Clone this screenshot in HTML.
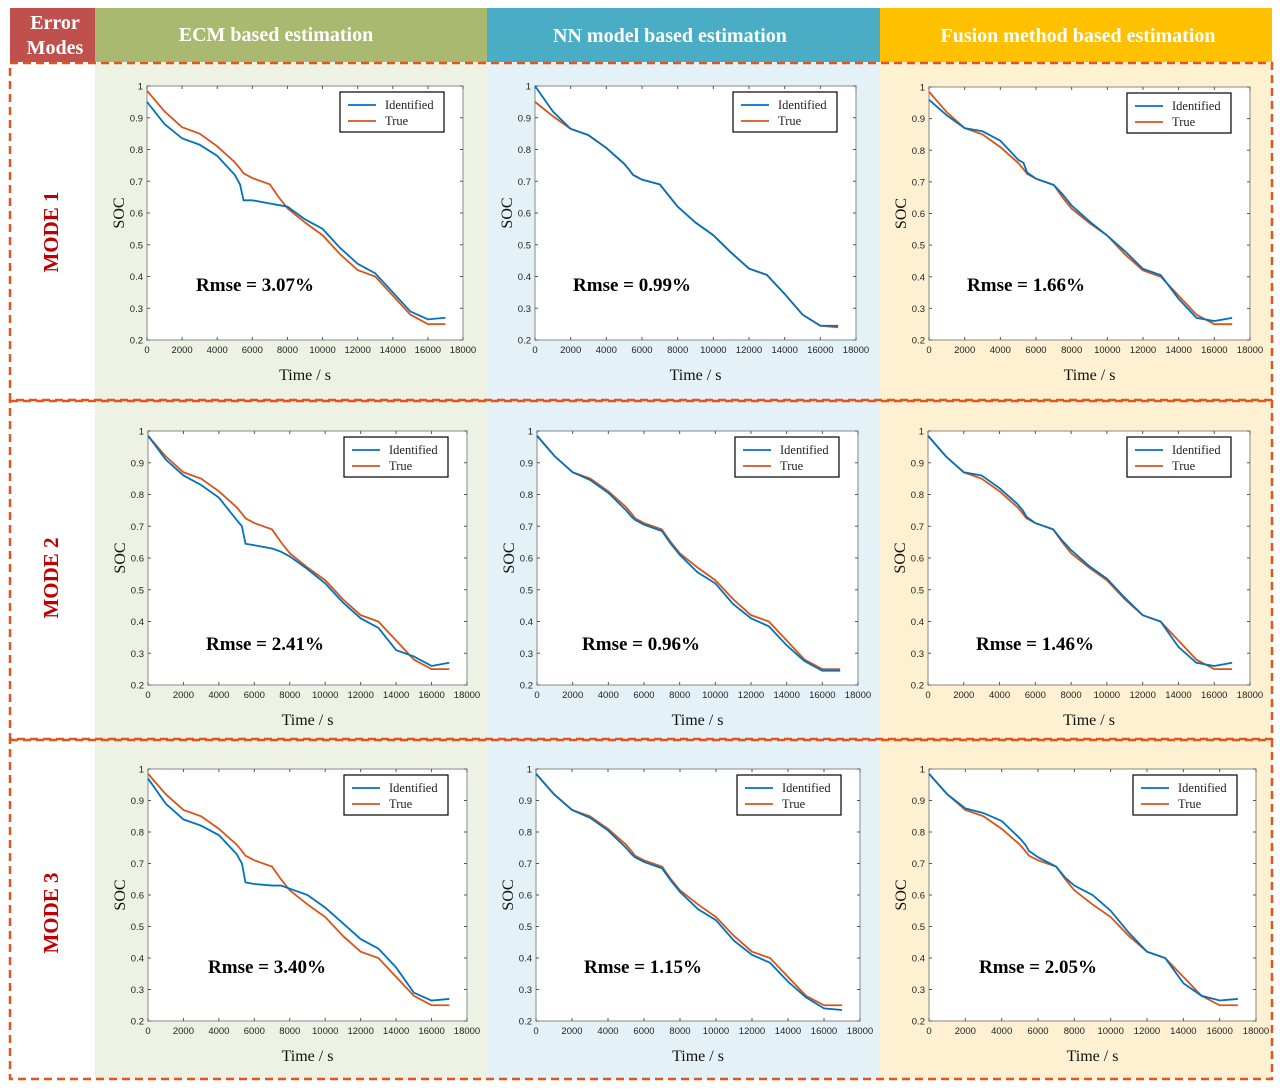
<!DOCTYPE html>
<html><head><meta charset="utf-8"><style>
html,body{margin:0;padding:0;background:#fff;width:1280px;height:1090px;overflow:hidden}
svg{display:block;font-family:"Liberation Serif",serif}
</style></head><body>
<svg id="fig" width="1280" height="1090" viewBox="0 0 1280 1090" xmlns="http://www.w3.org/2000/svg">
<rect x="95" y="62" width="392" height="1018" fill="#eef2e4"/>
<rect x="487" y="62" width="393" height="1018" fill="#e4f2f7"/>
<rect x="880" y="62" width="392" height="1018" fill="#fdf1d2"/>
<rect x="10" y="8" width="85" height="54" fill="#c0504d"/>
<rect x="95" y="8" width="392" height="54" fill="#a9ba70"/>
<rect x="487" y="8" width="393" height="54" fill="#4bacc6"/>
<rect x="880" y="8" width="392" height="54" fill="#ffc000"/>
<text x="55" y="29" font-size="20" font-weight="bold" fill="#fff" text-anchor="middle">Error</text>
<text x="55" y="54" font-size="20" font-weight="bold" fill="#fff" text-anchor="middle">Modes</text>
<text x="276" y="41" font-size="20" font-weight="bold" fill="#fff" text-anchor="middle">ECM based estimation</text>
<text x="670" y="42" font-size="20" font-weight="bold" fill="#fff" text-anchor="middle">NN model based estimation</text>
<text x="1078" y="42" font-size="20" font-weight="bold" fill="#fff" text-anchor="middle">Fusion method based estimation</text>
<g fill="none" stroke="#e0561e" stroke-width="2.5" stroke-dasharray="8,5">
<rect x="10" y="63" width="1262" height="337"/>
<rect x="10" y="401" width="1262" height="338"/>
<rect x="10" y="740" width="1262" height="339"/>
</g>
<text transform="translate(58,232) rotate(-90)" font-size="21" font-weight="bold" fill="#c00000" text-anchor="middle">MODE 1</text>
<text transform="translate(58,578) rotate(-90)" font-size="21" font-weight="bold" fill="#c00000" text-anchor="middle">MODE 2</text>
<text transform="translate(58,913) rotate(-90)" font-size="21" font-weight="bold" fill="#c00000" text-anchor="middle">MODE 3</text>
<g id="charts"></g>
</svg>
<script>
const times=[0,1000,2000,3000,4000,5000,5300,5500,6000,7000,7500,8000,9000,10000,11000,12000,13000,14000,15000,16000,17000];
const xTicks=[0,2000,4000,6000,8000,10000,12000,14000,16000,18000];
const yTicks=[0.2,0.3,0.4,0.5,0.6,0.7,0.8,0.9,1];
const trueSoc=[0.985,0.92,0.87,0.85,0.81,0.76,0.74,0.725,0.71,0.69,0.65,0.615,0.57,0.53,0.47,0.42,0.40,0.34,0.28,0.25,0.25];
const trueSocNN1=[0.95,0.905,0.865,0.845,0.805,0.755,0.735,0.72,0.705,0.69,0.655,0.62,0.57,0.53,0.475,0.425,0.405,0.345,0.28,0.245,0.24];
const ecm1=[0.95,0.88,0.835,0.815,0.78,0.72,0.69,0.64,0.64,0.63,0.625,0.62,0.58,0.55,0.49,0.44,0.41,0.35,0.29,0.265,0.27];
const nn1=[1.0,0.92,0.865,0.845,0.805,0.755,0.735,0.72,0.705,0.69,0.655,0.62,0.57,0.53,0.475,0.425,0.405,0.345,0.28,0.245,0.245];
const fus1=[0.96,0.91,0.87,0.86,0.83,0.77,0.76,0.73,0.71,0.69,0.66,0.625,0.575,0.53,0.48,0.425,0.405,0.33,0.27,0.26,0.27];
const ecm2=[0.985,0.91,0.86,0.83,0.79,0.72,0.70,0.645,0.64,0.63,0.62,0.605,0.565,0.52,0.46,0.41,0.38,0.31,0.29,0.26,0.27];
const nn2=[0.985,0.92,0.87,0.845,0.805,0.75,0.73,0.72,0.705,0.685,0.645,0.61,0.555,0.52,0.455,0.41,0.385,0.325,0.275,0.245,0.245];
const fus2=[0.985,0.92,0.87,0.86,0.82,0.77,0.75,0.73,0.71,0.69,0.655,0.625,0.575,0.535,0.475,0.42,0.40,0.32,0.27,0.26,0.27];
const ecm3=[0.97,0.89,0.84,0.82,0.79,0.73,0.70,0.64,0.635,0.63,0.63,0.62,0.60,0.56,0.51,0.46,0.43,0.37,0.29,0.265,0.27];
const nn3=[0.985,0.92,0.87,0.845,0.805,0.75,0.73,0.72,0.705,0.685,0.645,0.61,0.555,0.52,0.455,0.41,0.385,0.325,0.275,0.24,0.235];
const fus3=[0.985,0.92,0.875,0.86,0.835,0.78,0.76,0.74,0.72,0.69,0.655,0.63,0.60,0.55,0.48,0.42,0.40,0.32,0.28,0.265,0.27];
const rmseLabels=["Rmse = 3.07%","Rmse = 0.99%","Rmse = 1.66%","Rmse = 2.41%","Rmse = 0.96%","Rmse = 1.46%","Rmse = 3.40%","Rmse = 1.15%","Rmse = 2.05%"];
const identSeries=[ecm1,nn1,fus1,ecm2,nn2,fus2,ecm3,nn3,fus3];
const trueSeries=[trueSoc,trueSocNN1,trueSoc,trueSoc,trueSoc,trueSoc,trueSoc,trueSoc,trueSoc];
const panels=[
 [147,463,86,340],[535,856,86,340],[929,1250,87,340],
 [148,467,431,685],[537,858,431,685],[928,1250,431,685],
 [148,467,769,1021],[536,860,769,1021],[929,1256,769,1021]];
const rmsePos=[[255,291],[632,291],[1026,291],[265,650],[641,650],[1035,650],[267,973],[643,973],[1038,973]];
const NS="http://www.w3.org/2000/svg";
const root=document.getElementById('charts');
function mk(tag,attrs,parent){const e=document.createElementNS(NS,tag);for(const k in attrs)e.setAttribute(k,attrs[k]);parent.appendChild(e);return e;}
panels.forEach((p,i)=>{
 const [L,R,T,B]=p;
 const xs=t=>L+(t/18000)*(R-L);
 const ys=v=>B-(v-0.2)/0.8*(B-T);
 const g=mk('g',{},root);
 
 
 const bg=mk('rect',{x:L,y:T,width:R-L,height:B-T,fill:'#fff',stroke:'#888','stroke-width':1},g);
 
 
 xTicks.forEach(t=>{
  const x=xs(t);
  mk('line',{x1:x,x2:x,y1:B,y2:B-3,stroke:'#555'},g);
  mk('line',{x1:x,x2:x,y1:T,y2:T+3,stroke:'#555'},g);
  const tx=mk('text',{x:x,y:B+13,'font-size':9.5,'text-anchor':'middle',fill:'#222','font-family':'Liberation Sans, sans-serif'},g);
  tx.textContent=t;
  
  
 });
 yTicks.forEach(v=>{
  const y=ys(v);
  mk('line',{x1:L,x2:L+3,y1:y,y2:y,stroke:'#555'},g);
  mk('line',{x1:R,x2:R-3,y1:y,y2:y,stroke:'#555'},g);
  const tx=mk('text',{x:L-4,y:y+3.5,'font-size':9.5,'text-anchor':'end',fill:'#222','font-family':'Liberation Sans, sans-serif'},g);
  tx.textContent=(v===1?'1':v.toFixed(1));
  
  
 });
 const ptsT=times.map((t,k)=>xs(t)+','+ys(trueSeries[i][k])).join(' ');
 const ptsI=times.map((t,k)=>xs(t)+','+ys(identSeries[i][k])).join(' ');
 const lt=mk('polyline',{points:ptsT,fill:'none',stroke:'#d95319','stroke-width':1.8},g);
 
 
 const li=mk('polyline',{points:ptsI,fill:'none',stroke:'#0072bd','stroke-width':1.8},g);
 
 
 const lx=R-123, ly=T+6;
 const lg=mk('g',{},g);
 
 
 mk('rect',{x:lx,y:ly,width:104,height:40,fill:'#fff',stroke:'#000','stroke-width':1.2},lg);
 mk('line',{x1:lx+8,x2:lx+36,y1:ly+13,y2:ly+13,stroke:'#0072bd','stroke-width':1.8},lg);
 mk('line',{x1:lx+8,x2:lx+36,y1:ly+29,y2:ly+29,stroke:'#d95319','stroke-width':1.8},lg);
 const t1=mk('text',{x:lx+45,y:ly+17,'font-size':12.5,fill:'#222'},lg);t1.textContent='Identified';
 
 
 const t2=mk('text',{x:lx+45,y:ly+33,'font-size':12.5,fill:'#222'},lg);t2.textContent='True';
 
 
 const rm=mk('text',{x:rmsePos[i][0],y:rmsePos[i][1],'font-size':19,'font-weight':'bold','text-anchor':'middle',fill:'#000'},g);
 rm.textContent=rmseLabels[i];
 
 
 const xl=mk('text',{x:(L+R)/2,y:B+40,'font-size':16,'text-anchor':'middle',fill:'#111'},g);
 xl.textContent='Time / s';
 
 
 const yl=mk('text',{transform:'translate('+(L-23)+','+((T+B)/2)+') rotate(-90)','font-size':16,'text-anchor':'middle',fill:'#111'},g);
 yl.textContent='SOC';
 
 
});
</script>
</body></html>
